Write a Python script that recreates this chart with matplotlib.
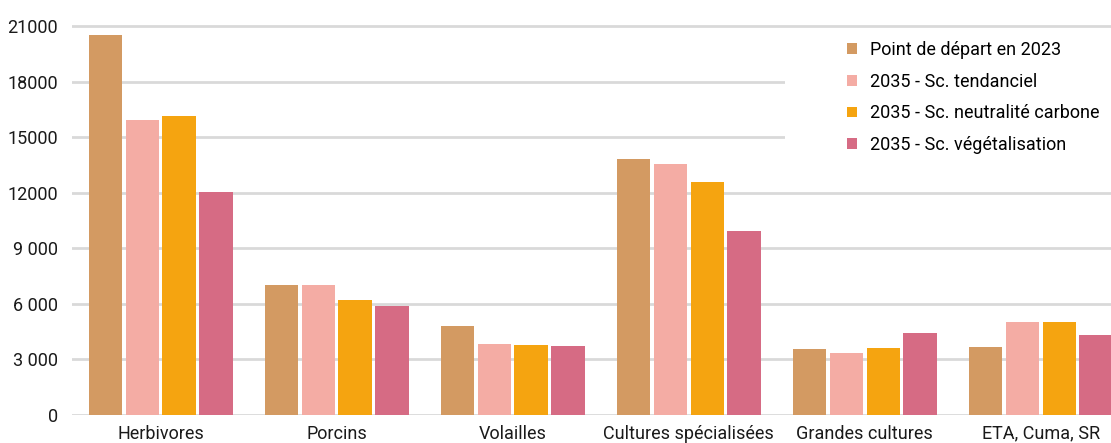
import matplotlib.pyplot as plt
import numpy as np
from matplotlib.patches import Rectangle

categories = ["Herbivores", "Porcins", "Volailles", "Cultures spécialisées",
              "Grandes cultures", "ETA, Cuma, SR"]
series_names = ["Point de départ en 2023", "2035 - Sc. tendanciel",
                "2035 - Sc. neutralité carbone", "2035 - Sc. végétalisation"]
depart_2023 = [20500, 7020, 4800, 13820, 3560, 3670]
tendanciel = [15900, 7000, 3830, 13550, 3350, 5020]
neutralite = [16150, 6200, 3780, 12580, 3620, 5020]
vegetalisation = [12050, 5880, 3730, 9930, 4430, 4320]
yticks = [0, 3000, 6000, 9000, 12000, 15000, 18000, 21000]
ytick_labels = ["0", "3 000", "6 000", "9 000", "12000", "15000", "18000", "21000"]

colors = ["#D39A62", "#F4ACA4", "#F5A410", "#D66B84"]

plt.rcParams["font.family"] = ["Roboto", "DejaVu Sans"]

W, H = 1111, 443
fig = plt.figure(figsize=(W / 100, H / 100), dpi=100)
ymax = 21300
top_px = 415 - ymax * 389 / 21000
ax_left = 72
ax = fig.add_axes([ax_left / W, (H - 415) / H, 1 - ax_left / W, (415 - top_px) / H])

x = np.arange(len(categories))
pitch = 0.21
width = 0.188
data = [depart_2023, tendanciel, neutralite, vegetalisation]
for i, (vals, name, c) in enumerate(zip(data, series_names, colors)):
    ax.bar(x + (i - 1.5) * pitch, vals, width, color=c, label=name, zorder=3)

ax.set_ylim(0, ymax)
ax.set_xlim(-0.503, 5.40)
ax.set_yticks(yticks)
ax.set_yticklabels(ytick_labels, fontsize=13, color="#1a1a1a")
ax.set_xticks(x)
ax.set_xticklabels(categories, fontsize=13, color="#1a1a1a")
ax.tick_params(axis="both", length=0)
ax.tick_params(axis="y", pad=10)
ax.tick_params(axis="x", pad=7)
for s in ax.spines.values():
    s.set_visible(False)
ax.grid(axis="y", color="#d9d9d9", linewidth=2, zorder=0)
ax.set_axisbelow(True)

# white box behind the legend, hides the gridlines like in the original
ax_w = W - ax_left
ax_h = 415 - top_px
box = Rectangle(((785 - ax_left) / ax_w, (415 - 178) / ax_h),
                (W - 785) / ax_w, (178 - 30) / ax_h,
                transform=ax.transAxes, facecolor="white", edgecolor="none",
                zorder=1)
ax.add_patch(box)

leg = ax.legend(loc="upper left",
                bbox_to_anchor=((847 - ax_left) / ax_w, (415 - 41) / ax_h),
                fontsize=13, frameon=False,
                handlelength=0.55, handleheight=0.55,
                labelspacing=0.76, borderpad=0.0, handletextpad=0.75,
                borderaxespad=0.0)
leg.set_zorder(5)

fig.savefig("out.png", dpi=100)
